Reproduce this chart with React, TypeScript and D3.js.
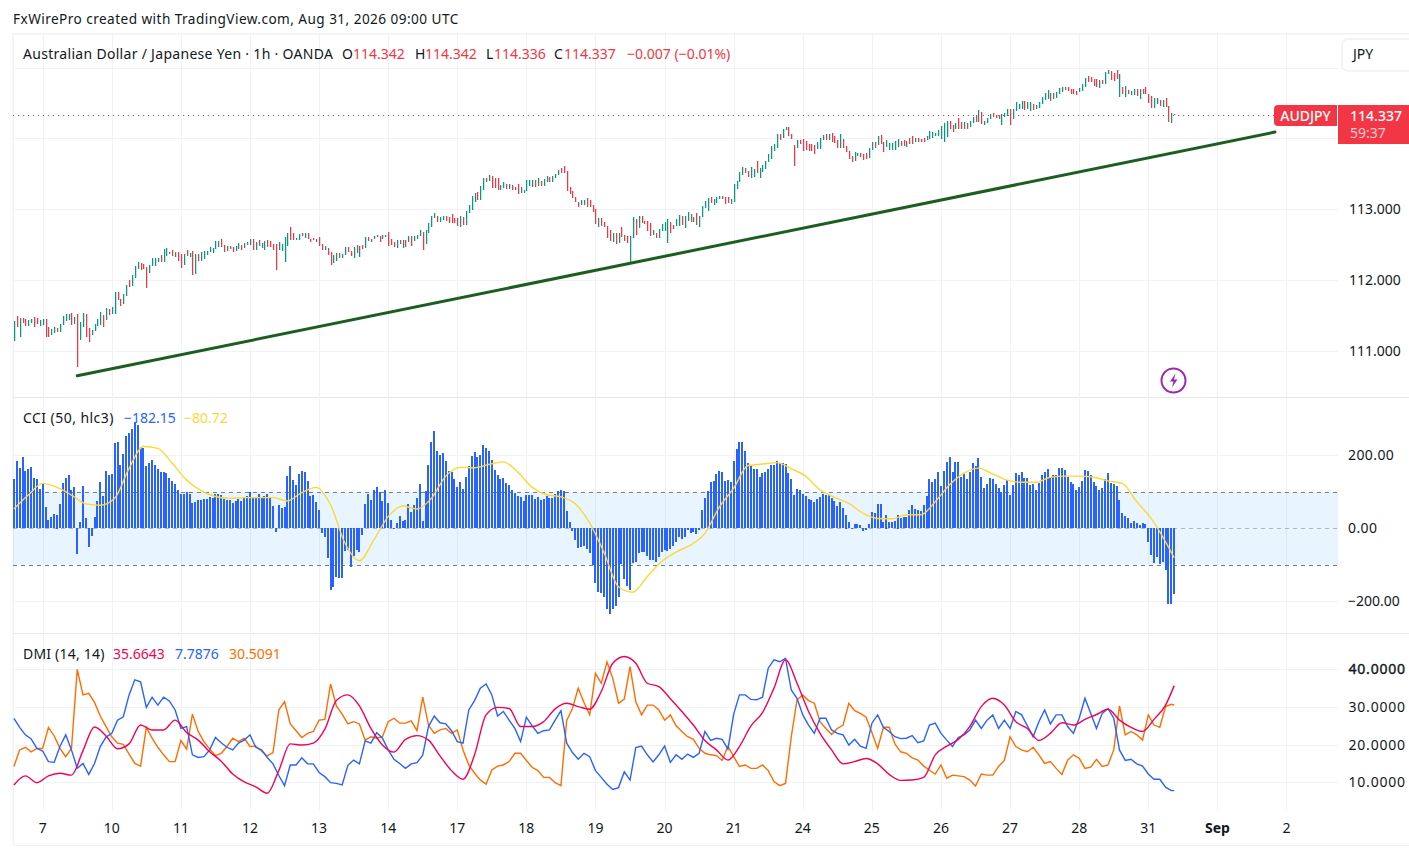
import * as d3 from "d3";

// candles, 1h bars
const candleHigh = [
  111.42,111.49,111.47,111.47,111.45,111.44,111.45,111.48,111.47,111.44,
  111.45,111.45,111.34,111.31,111.34,111.32,111.38,111.49,111.52,111.52,
  111.54,111.48,111.52,111.41,111.54,111.52,111.32,111.30,111.38,111.45,
  111.55,111.51,111.61,111.59,111.62,111.83,111.83,111.73,111.80,111.93,
  112.00,112.07,112.20,112.26,112.24,112.23,112.19,112.21,112.31,112.31,
  112.31,112.36,112.44,112.45,112.40,112.43,112.40,112.40,112.37,112.37,
  112.43,112.38,112.41,112.37,112.37,112.40,112.41,112.41,112.47,112.45,
  112.55,112.55,112.58,112.50,112.48,112.48,112.47,112.48,112.52,112.50,
  112.52,112.54,112.58,112.58,112.54,112.57,112.52,112.55,112.57,112.55,
  112.51,112.51,112.54,112.51,112.61,112.67,112.75,112.67,112.60,112.65,
  112.67,112.67,112.67,112.58,112.60,112.58,112.61,112.51,112.48,112.45,
  112.40,112.36,112.38,112.38,112.37,112.47,112.47,112.41,112.47,112.50,
  112.48,112.50,112.61,112.61,112.58,112.62,112.64,112.62,112.64,112.64,
  112.68,112.58,112.54,112.57,112.57,112.57,112.57,112.62,112.62,112.62,
  112.64,112.71,112.68,112.71,112.81,112.91,112.95,112.91,112.89,112.91,
  112.91,112.89,112.93,112.88,112.88,112.91,112.89,112.98,113.06,113.19,
  113.23,113.24,113.33,113.44,113.44,113.48,113.47,113.44,113.44,113.34,
  113.39,113.36,113.36,113.34,113.32,113.36,113.32,113.27,113.41,113.41,
  113.41,113.41,113.44,113.40,113.43,113.47,113.46,113.47,113.50,113.56,
  113.58,113.61,113.54,113.32,113.26,113.17,113.10,113.13,113.13,113.16,
  113.13,113.06,113.00,112.88,112.88,112.82,112.76,112.71,112.67,112.67,
  112.67,112.75,112.64,112.62,112.62,112.89,112.86,112.91,112.91,112.84,
  112.84,112.81,112.71,112.67,112.72,112.79,112.82,112.86,112.82,112.78,
  112.86,112.92,112.91,112.91,112.96,112.93,112.89,112.95,112.91,113.05,
  113.12,113.16,113.17,113.15,113.17,113.19,113.19,113.17,113.17,113.15,
  113.36,113.40,113.53,113.60,113.58,113.54,113.60,113.57,113.68,113.58,
  113.63,113.68,113.78,113.89,113.92,114.06,114.06,114.13,114.16,114.16,
  114.06,113.91,113.98,113.98,113.99,113.96,113.92,113.92,113.91,113.95,
  114.01,114.05,114.06,114.06,114.08,114.04,113.98,114.06,113.99,113.89,
  113.82,113.75,113.81,113.80,113.80,113.78,113.80,113.87,113.95,113.95,
  114.03,114.05,113.95,113.98,113.93,113.93,113.96,113.99,113.96,113.98,
  113.96,114.00,114.03,114.00,114.00,113.99,114.00,114.03,114.10,114.09,
  114.08,114.12,114.17,114.22,114.24,114.24,114.19,114.22,114.29,114.23,
  114.23,114.22,114.24,114.30,114.33,114.40,114.37,114.24,114.29,114.34,
  114.36,114.33,114.33,114.34,114.36,114.41,114.41,114.41,114.51,114.48,
  114.53,114.53,114.51,114.51,114.48,114.47,114.51,114.58,114.64,114.68,
  114.64,114.64,114.65,114.71,114.72,114.72,114.72,114.70,114.70,114.67,
  114.71,114.77,114.85,114.88,114.87,114.84,114.84,114.82,114.82,114.94,
  114.96,114.95,114.92,114.96,114.91,114.72,114.74,114.68,114.67,114.70,
  114.70,114.70,114.70,114.72,114.63,114.60,114.57,114.57,114.54,114.54,
  114.57,114.46,114.36,114.342,
];
const candleLow = [
  111.14,111.34,111.20,111.40,111.35,111.35,111.40,111.34,111.38,111.35,
  111.37,111.20,111.20,111.23,111.25,111.27,111.27,111.37,111.42,111.44,
  111.37,111.38,110.77,111.16,111.34,111.20,111.13,111.23,111.28,111.35,
  111.37,111.34,111.44,111.51,111.52,111.52,111.72,111.64,111.66,111.78,
  111.90,111.92,112.03,112.16,112.14,112.16,111.89,112.10,112.20,112.20,
  112.26,112.26,112.26,112.34,112.37,112.34,112.33,112.27,112.17,112.21,
  112.34,112.33,112.07,112.09,112.27,112.27,112.30,112.36,112.40,112.38,
  112.44,112.47,112.47,112.40,112.41,112.44,112.40,112.41,112.44,112.43,
  112.45,112.50,112.50,112.43,112.43,112.48,112.45,112.43,112.47,112.47,
  112.43,112.14,112.43,112.41,112.26,112.48,112.56,112.56,112.56,112.57,
  112.62,112.60,112.58,112.54,112.57,112.54,112.48,112.43,112.43,112.36,
  112.21,112.24,112.27,112.31,112.31,112.36,112.40,112.34,112.31,112.38,
  112.33,112.44,112.45,112.55,112.54,112.58,112.61,112.54,112.58,112.61,
  112.48,112.50,112.47,112.45,112.51,112.45,112.47,112.54,112.48,112.55,
  112.58,112.62,112.43,112.51,112.67,112.75,112.88,112.82,112.82,112.85,
  112.84,112.81,112.81,112.81,112.76,112.75,112.78,112.78,112.95,112.99,
  113.10,113.13,113.13,113.27,113.39,113.40,113.30,113.30,113.27,113.27,
  113.30,113.29,113.29,113.27,113.27,113.22,113.23,113.23,113.26,113.33,
  113.32,113.32,113.33,113.33,113.33,113.39,113.39,113.39,113.44,113.48,
  113.51,113.51,113.26,113.22,113.16,113.10,113.03,113.06,113.06,113.03,
  113.03,112.96,112.79,112.75,112.76,112.75,112.60,112.55,112.54,112.51,
  112.52,112.61,112.55,112.52,112.24,112.60,112.64,112.74,112.81,112.79,
  112.69,112.62,112.64,112.60,112.60,112.69,112.69,112.52,112.67,112.72,
  112.76,112.76,112.78,112.74,112.84,112.82,112.82,112.78,112.75,112.89,
  113.02,112.98,113.09,113.06,113.09,113.15,113.15,113.08,113.09,113.08,
  113.10,113.29,113.39,113.48,113.51,113.46,113.44,113.46,113.51,113.44,
  113.53,113.57,113.67,113.71,113.82,113.87,113.98,114.01,114.12,114.04,
  113.99,113.61,113.87,113.92,113.82,113.84,113.82,113.82,113.78,113.85,
  113.85,113.98,113.98,113.98,113.95,113.94,113.87,113.87,113.87,113.81,
  113.71,113.67,113.68,113.75,113.74,113.70,113.71,113.72,113.84,113.86,
  113.91,113.92,113.81,113.88,113.84,113.84,113.84,113.88,113.89,113.89,
  113.88,113.92,113.92,113.95,113.95,113.95,113.95,113.98,113.99,114.00,
  114.03,114.03,113.99,113.95,114.02,114.13,114.09,114.13,114.13,114.13,
  114.13,114.13,114.16,114.22,114.23,114.23,114.20,114.19,114.22,114.27,
  114.30,114.29,114.27,114.19,114.30,114.32,114.19,114.27,114.39,114.41,
  114.41,114.40,114.41,114.39,114.40,114.41,114.43,114.48,114.54,114.56,
  114.53,114.56,114.57,114.63,114.65,114.68,114.67,114.63,114.63,114.61,
  114.65,114.67,114.72,114.80,114.80,114.74,114.72,114.71,114.77,114.77,
  114.91,114.82,114.81,114.84,114.58,114.63,114.58,114.63,114.61,114.61,
  114.60,114.56,114.63,114.63,114.50,114.43,114.43,114.48,114.46,114.44,
  114.44,114.23,114.22,114.336,
];
const candleDir = (
  "GRGRRGGRRG" + "GRRGGRGGGG" + "RGRGGRRGGG" + "GRGRGGRRGG" + "RGGGRRRGGG" +
  "GRGGRRGRRG" + "RGRGRGGGGG" + "GGRRGRRGGR" + "GRGRGRGGRR" + "RRGGGGRRGG" +
  "RGRRRGRRGR" + "RGGRGGRRGR" + "GRGRGGRRGG" + "RRRGRGRGRG" + "GGRGGGGRGG" +
  "RRRRRGRGGG" + "GRGGRGRRRG" + "GRGRRRGGGG" + "GRGRGGRGGG" + "RRRRRRRGGR" +
  "RRRGRRRRGR" + "GRRRGGRGRR" + "RRGRGGGGRR" + "GGRGGRGRGG" + "GGRGGGRRRG" +
  "GGGGRRGGRG" + "GGGGGGRGGR" + "RRGRRRRRRG" + "GGRGRRRGRR" + "RRGGRRRGGR" +
  "GRRGGGGGRR" + "GRRGRRRGGG" + "GGGGGRRGRR" + "GRGGRGRGGG" + "RRRGGGRGGG" +
  "GRGGRGGGGG" + "RGGGGRRRRR" + "GGGRRRRGRG" + "GRRRGRGRGG" + "RGRRRRGGRG" + "RRGR"
).split("");

const trendIndex = [22, 438];
const trendPrice = [110.65, 114.09];
const lastPrice = 114.337;

// CCI histogram, one value per bar
const cciValues = [
  135,184,165,195,157,163,168,138,135,108,
  123,58,23,31,39,37,67,124,138,146,
  105,113,-70,17,116,28,-51,-21,31,75,
  127,89,157,146,149,234,236,173,204,253,
  261,272,291,283,223,220,171,179,187,173,
  163,154,154,152,138,130,121,105,94,94,
  100,94,69,72,78,78,80,80,86,83,
  94,94,91,80,78,78,69,75,80,75,
  83,89,100,83,83,94,83,89,94,86,
  61,-10,64,56,58,143,171,132,119,149,
  157,154,130,89,91,72,50,-13,-26,-81,
  -169,-163,-133,-136,-136,-62,-59,-106,-76,-59,
  -65,-18,67,94,78,105,113,100,75,105,
  69,23,1,15,34,20,23,67,45,64,
  83,121,20,102,173,236,267,212,201,206,
  184,157,154,135,113,127,108,141,171,198,
  209,195,201,228,220,212,187,160,146,135,
  138,124,119,105,97,89,86,75,91,91,
  91,80,86,78,80,89,83,83,94,102,
  105,102,47,17,-7,-32,-54,-51,-48,-57,
  -68,-100,-152,-174,-177,-188,-221,-235,-221,-213,
  -188,-98,-139,-158,-169,-95,-92,-68,-65,-65,
  -76,-87,-87,-92,-79,-65,-59,-62,-57,-48,
  -37,-24,-29,-26,-5,-13,-10,-16,-5,50,
  83,102,127,130,149,157,154,130,132,127,
  184,217,236,236,212,179,171,163,163,141,
  152,154,163,173,173,184,179,179,176,152,
  135,91,108,105,94,89,80,78,72,80,
  86,94,91,91,83,75,61,72,56,37,
  17,1,12,12,9,-7,-5,12,45,42,
  67,67,17,37,17,17,20,37,28,31,
  31,50,64,53,50,47,64,89,135,127,
  135,154,116,157,182,195,154,182,182,141,
  149,135,154,179,171,193,141,110,121,138,
  135,121,110,100,119,132,91,119,152,146,
  154,138,138,119,121,105,124,146,154,163,
  141,146,146,165,165,160,141,127,121,105,
  113,130,160,157,146,127,116,105,110,135,
  152,124,121,116,78,42,34,28,15,20,
  15,9,15,12,-37,-73,-95,-79,-98,-92,
  -114,-207,-207,-182.15,
];
// yellow CCI average, read every 5th bar, last one is the final bar
const cciSignal = [
  53,91,123,112,91,67,63,82,164,224,219,178,132,103,87,82,84,84,84,75,98,112,64,-41,-89,-32,32,61,
  53,82,143,167,166,175,182,154,112,92,86,67,14,-67,-160,-175,-132,-91,-65,-46,-14,58,110,172,176,180,163,
  143,105,85,68,41,27,26,37,37,73,119,151,165,149,132,126,126,140,143,143,140,130,123,73,27,-37,-80.72,
];

// DMI lines: orange and blue read every 2nd bar, red every 4th, last one is the final bar
const dmiOrange = [
  14.2,18.6,19.3,18.1,19.0,19.0,24.6,22.3,19.0,16.8,
  19.0,40.0,33.2,33.6,31.2,27.6,24.8,22.1,20.4,20.1,
  17.5,15.0,14.3,24.6,21.7,19.3,17.3,15.5,15.5,21.1,
  18.8,28.1,23.5,20.8,18.8,17.1,17.7,19.5,21.7,20.8,
  21.7,19.5,19.6,18.3,17.0,17.9,29.2,31.4,25.5,23.7,
  21.9,23.0,23.5,26.5,26.7,36.1,30.3,28.1,25.5,26.1,
  25.5,21.2,22.1,21.7,22.1,26.1,27.0,25.7,
  25.7,26.3,23.7,32.6,25.2,23.0,23.9,24.3,23.0,23.9,
  18.6,14.6,12.4,10.6,9.5,13.3,14.3,14.6,15.5,17.7,
  17.7,15.8,14.0,13.1,11.3,11.3,9.9,9.1,26.4,29.6,
  35.0,31.2,27.9,38.9,36.3,42.0,37.6,31.0,32.1,40.7,
  31.4,27.9,30.5,30.5,29.2,26.5,27.9,25.0,23.5,22.1,
  21.4,19.0,17.7,17.3,17.1,15.8,19.6,16.8,14.2,14.6,
  13.7,13.7,14.6,13.1,10.2,9.1,9.7,22.1,31.9,
  33.2,31.7,31.0,26.1,24.3,22.7,24.3,25.2,31.0,29.0,
  28.3,27.3,23.2,19.0,24.6,24.6,20.2,18.1,17.7,16.5,
  15.9,14.3,13.2,12.2,14.6,11.1,11.9,11.7,11.5,10.6,
  9.0,12.2,11.9,11.9,14.2,15.8,22.1,19.5,18.6,18.1,
  19.3,17.3,15.0,15.5,13.7,12.1,15.9,17.3,16.4,13.7,
  14.0,16.1,14.2,14.6,18.6,30.3,22.6,23.5,22.6,21.2,
  27.9,25.2,24.6,30.1,30.7,30.5091,
];
const dmiBlue = [
  27.0,24.6,22.6,21.5,19.0,18.3,15.5,15.3,19.5,22.6,
  18.6,13.7,15.0,12.1,15.0,19.5,22.0,23.0,26.5,27.4,
  33.2,37.2,36.7,29.9,32.6,30.5,32.6,31.6,29.2,24.3,
  24.8,17.3,16.6,16.8,18.6,21.9,20.5,19.3,18.6,20.4,
  21.2,22.6,19.3,18.6,16.6,14.9,11.8,9.1,14.6,14.6,
  16.5,14.9,14.9,12.6,11.5,9.9,9.7,9.3,14.5,15.9,
  14.9,21.0,20.4,23.2,21.7,18.6,16.1,15.0,
  13.7,14.9,15.2,17.2,24.8,27.6,25.8,25.5,23.7,20.8,
  20.4,29.2,31.7,35.0,36.1,33.2,27.6,28.8,26.5,24.3,
  20.8,27.3,25.0,23.0,23.7,23.9,26.5,29.0,20.4,17.9,
  16.1,17.7,16.8,13.1,11.3,9.5,8.1,8.6,12.8,10.6,
  19.2,19.6,17.3,15.4,17.3,19.6,15.3,17.3,16.1,17.5,
  16.6,17.7,23.5,21.1,21.7,21.4,18.8,28.1,33.2,33.2,
  32.0,31.9,32.6,40.3,42.5,42.0,42.9,34.5,32.3,
  27.9,25.2,23.0,27.0,27.0,23.9,23.0,22.6,19.9,21.4,
  19.6,19.0,25.7,27.9,24.6,23.5,22.1,21.6,21.7,22.4,
  20.5,21.0,25.2,25.7,23.0,21.2,19.5,21.9,22.6,23.9,
  26.5,24.3,26.5,27.9,24.3,26.5,24.3,28.8,27.9,25.0,
  22.1,26.1,29.2,25.5,27.9,27.9,24.8,23.0,27.0,32.3,
  28.3,24.3,28.3,29.6,27.0,18.6,15.8,16.1,14.9,14.3,
  12.2,10.8,10.8,8.7,7.8,7.7876,
];
const dmiRed = [
  9.3,11.7,9.9,11.7,12.4,11.9,18.4,24.7,22.3,18.9,
  20.2,25.2,23.9,23.9,26.5,23.2,21.2,18.1,15.6,12.2,
  10.1,8.8,7.1,13.1,20.2,19.9,20.4,24.1,31.7,33.2,
  30.3,24.3,19.9,18.0,
  21.4,22.4,21.2,17.0,13.1,10.8,17.3,27.9,29.9,29.6,
  24.8,24.8,26.1,29.5,31.0,30.1,29.4,34.1,41.6,43.4,
  41.6,36.3,35.4,32.2,28.8,25.2,21.1,18.6,15.9,19.5,
  25.0,28.5,35.0,42.5,36.3,
  28.8,23.0,18.6,14.9,15.5,16.3,14.9,12.1,10.5,10.6,
  11.3,17.3,19.6,21.4,24.8,30.1,32.3,30.5,26.1,24.3,
  21.1,23.0,25.8,25.2,26.7,28.0,29.4,26.5,24.6,23.5,
  26.7,30.5,35.6643,
];

const priceGrid = [115, 114, 113, 112, 111];
const priceLabels = [113, 112, 111];
const cciGrid = [200, -200];
const cciBands = [100, -100];
const cciLabels = [200, 0, -200];
const dmiGrid = [40, 30, 20, 10];
const dayLabels = ["7", "10", "11", "12", "13", "14", "17", "18", "19", "20", "21", "24", "25", "26", "27", "28", "31", "Sep", "2"];

const lastBar = 403;
const font = "'Noto Sans', sans-serif";
const ink = "#131722";
const gridColor = "#f1f2f6";
const red = "#f23645";
const green = "#089981";

const cciIndex = d3.range(0, 401, 5).concat(lastBar);
const twoIndex = d3.range(0, 403, 2).concat(lastBar);
const fourIndex = d3.range(0, 401, 4).concat(lastBar);

export default function App() {
  const x = d3.scaleLinear().domain([0, lastBar]).range([13.9, 1174.2]);
  const yPrice = d3.scaleLinear().domain([111, 115]).range([351, 67.6]);
  const yCci = d3.scaleLinear().domain([-200, 200]).range([601.3, 455.3]);
  const yDmi = d3.scaleLinear().domain([10, 40]).range([782.3, 669.3]);

  const lineOf = (index: number[], y: (v: number) => number, curve = d3.curveLinear) =>
    d3.line<number>().x((_, i) => x(index[i])).y((d) => y(d)).curve(curve);

  const cciLine = lineOf(cciIndex, yCci, d3.curveMonotoneX);
  const orangeLine = lineOf(twoIndex, yDmi);
  const blueLine = lineOf(twoIndex, yDmi);
  const redLine = lineOf(fourIndex, yDmi, d3.curveMonotoneX);

  const plotRight = 1338;
  const lastY = Math.round(yPrice(lastPrice)) + 0.5;

  return (
    <svg width={1409} height={856} style={{ position: "absolute", left: 0, top: 0, background: "#fff", fontFamily: font }}>
      <text x={13} y={24} fontSize={13.6} fill={ink} letterSpacing={0.45}>FxWirePro created with TradingView.com, Aug 31, 2026 09:00 UTC</text>

      {/* frame */}
      <rect x={13} y={33} width={1396} height={1.5} fill={gridColor} />
      <rect x={12.5} y={33} width={1.5} height={812} fill={gridColor} />
      <rect x={13} y={845} width={1396} height={1} fill={gridColor} />
      <rect x={13} y={397} width={1396} height={1} fill="#e6e8ef" />
      <rect x={13} y={633} width={1396} height={1} fill="#e6e8ef" />

      {/* grid */}
      {dayLabels.map((_, i) => {
        const px = Math.round(x(10 + i * 24)) + 0.5;
        return <line key={i} x1={px} x2={px} y1={34} y2={810} stroke={gridColor} />;
      })}
      {priceGrid.map((v) => (
        <line key={v} x1={13} x2={plotRight} y1={Math.round(yPrice(v)) + 0.5} y2={Math.round(yPrice(v)) + 0.5} stroke={gridColor} />
      ))}
      {cciGrid.map((v) => (
        <line key={v} x1={13} x2={plotRight} y1={Math.round(yCci(v)) + 0.5} y2={Math.round(yCci(v)) + 0.5} stroke={gridColor} />
      ))}
      {dmiGrid.map((v) => (
        <line key={v} x1={13} x2={plotRight} y1={Math.round(yDmi(v)) + 0.5} y2={Math.round(yDmi(v)) + 0.5} stroke={gridColor} />
      ))}

      {/* main pane */}
      <line x1={13} x2={1275} y1={lastY} y2={lastY} stroke={red} strokeDasharray="1 4" />
      {candleHigh.map((h, i) => (
        <rect
          key={i}
          x={Math.round(x(i))}
          y={Math.round(yPrice(h))}
          width={1.25}
          height={Math.max(1, Math.round(yPrice(candleLow[i])) - Math.round(yPrice(h)))}
          fill={candleDir[i] === "G" ? green : red}
        />
      ))}
      <line x1={x(trendIndex[0])} y1={yPrice(trendPrice[0])} x2={x(trendIndex[1])} y2={yPrice(trendPrice[1])} stroke="#1b5e20" strokeWidth={3} strokeLinecap="round" />

      <text x={23} y={59} fontSize={14} fill={ink} letterSpacing={0.3}>Australian Dollar / Japanese Yen · 1h · OANDA</text>
      <text x={342} y={59} fontSize={14} fill={ink}>O</text>
      <text x={353} y={59} fontSize={14} fill={red}>114.342</text>
      <text x={415} y={59} fontSize={14} fill={ink}>H</text>
      <text x={425} y={59} fontSize={14} fill={red}>114.342</text>
      <text x={486} y={59} fontSize={14} fill={ink}>L</text>
      <text x={494} y={59} fontSize={14} fill={red}>114.336</text>
      <text x={554} y={59} fontSize={14} fill={ink}>C</text>
      <text x={564} y={59} fontSize={14} fill={red}>114.337</text>
      <text x={627} y={59} fontSize={14} fill={red}>−0.007 (−0.01%)</text>

      <rect x={1342} y={39} width={80} height={32} rx={6} fill="#fff" stroke={gridColor} strokeWidth={1.5} />
      <text x={1353} y={59} fontSize={14} fill={ink}>JPY</text>

      <path d="M1274 109a4 4 0 0 1 4-4h59v21h-59a4 4 0 0 1-4-4z" fill={red} />
      <text x={1305.5} y={120.5} fontSize={14} fontWeight={500} fill="#fff" textAnchor="middle">AUDJPY</text>
      <rect x={1338} y={105} width={71} height={39} fill={red} />
      <text x={1376} y={120.5} fontSize={14} fontWeight={500} fill="#fff" textAnchor="middle">114.337</text>
      <text x={1368} y={138} fontSize={14} fill="#fff" fillOpacity={0.75} textAnchor="middle">59:37</text>

      <circle cx={1173.5} cy={380.5} r={12} fill="#fff" stroke="#9c27b0" strokeWidth={2} />
      <path d="M1175.5 373.5l-5.5 8h3.5l-1.5 6 5.5-8h-3.5z" fill="#9c27b0" />

      {priceLabels.map((v) => (
        <text key={v} x={1349} y={yPrice(v) + 5} fontSize={14} fill={ink}>{v.toFixed(3)}</text>
      ))}

      {/* CCI pane */}
      <rect x={13} y={yCci(100)} width={plotRight - 13} height={yCci(-100) - yCci(100)} fill="#2196f3" fillOpacity={0.1} />
      {cciBands.map((v) => (
        <line key={v} x1={13} x2={plotRight} y1={Math.round(yCci(v)) + 0.5} y2={Math.round(yCci(v)) + 0.5} stroke="#787b86" strokeDasharray="4 4" />
      ))}
      <line x1={13} x2={plotRight} y1={Math.round(yCci(0)) + 0.5} y2={Math.round(yCci(0)) + 0.5} stroke="#787b86" strokeOpacity={0.5} strokeDasharray="4 4" />
      {cciValues.map((v, i) => (
        <rect
          key={i}
          x={Math.round(x(i)) - 1}
          y={Math.round(Math.min(yCci(v), yCci(0)))}
          width={2}
          height={Math.max(1, Math.round(Math.abs(yCci(v) - yCci(0))))}
          fill="#2962ff"
        />
      ))}
      <path d={cciLine(cciSignal) ?? ""} fill="none" stroke="#fdd835" strokeWidth={1.4} />
      <text x={23} y={423} fontSize={14} fill={ink} letterSpacing={0.45}>CCI (50, hlc3)</text>
      <text x={124} y={423} fontSize={14} fill="#2962ff">−182.15</text>
      <text x={184} y={423} fontSize={14} fill="#fdd835">−80.72</text>
      {cciLabels.map((v) => (
        <text key={v} x={1348} y={yCci(v) + 5} fontSize={14} fill={ink} letterSpacing={v < 0 ? 0 : 0.4}>
          {v < 0 ? "−" + (-v).toFixed(2) : v.toFixed(2)}
        </text>
      ))}

      {/* DMI pane */}
      <path d={orangeLine(dmiOrange) ?? ""} fill="none" stroke="#ff6d00" strokeWidth={1.4} />
      <path d={blueLine(dmiBlue) ?? ""} fill="none" stroke="#2962ff" strokeWidth={1.4} />
      <path d={redLine(dmiRed) ?? ""} fill="none" stroke="#f50057" strokeWidth={1.4} />
      <text x={23} y={659} fontSize={14} fill={ink} letterSpacing={0.2}>DMI (14, 14)</text>
      <text x={113} y={659} fontSize={14} fill="#f50057">35.6643</text>
      <text x={175} y={659} fontSize={14} fill="#2962ff">7.7876</text>
      <text x={229} y={659} fontSize={14} fill="#ff6d00">30.5091</text>
      {dmiGrid.map((v) => (
        <text key={v} x={1348.5} y={yDmi(v) + 5} fontSize={14} fill={ink} letterSpacing={0.8} stroke={v === 40 ? ink : "none"} strokeWidth={0.4}>{v.toFixed(4)}</text>
      ))}

      {/* time axis */}
      {dayLabels.map((d, i) => (
        <text key={d} x={x(10 + i * 24)} y={833} fontSize={14} fill={ink} textAnchor="middle" fontWeight={d === "Sep" ? 700 : 400}>{d}</text>
      ))}
    </svg>
  );
}
